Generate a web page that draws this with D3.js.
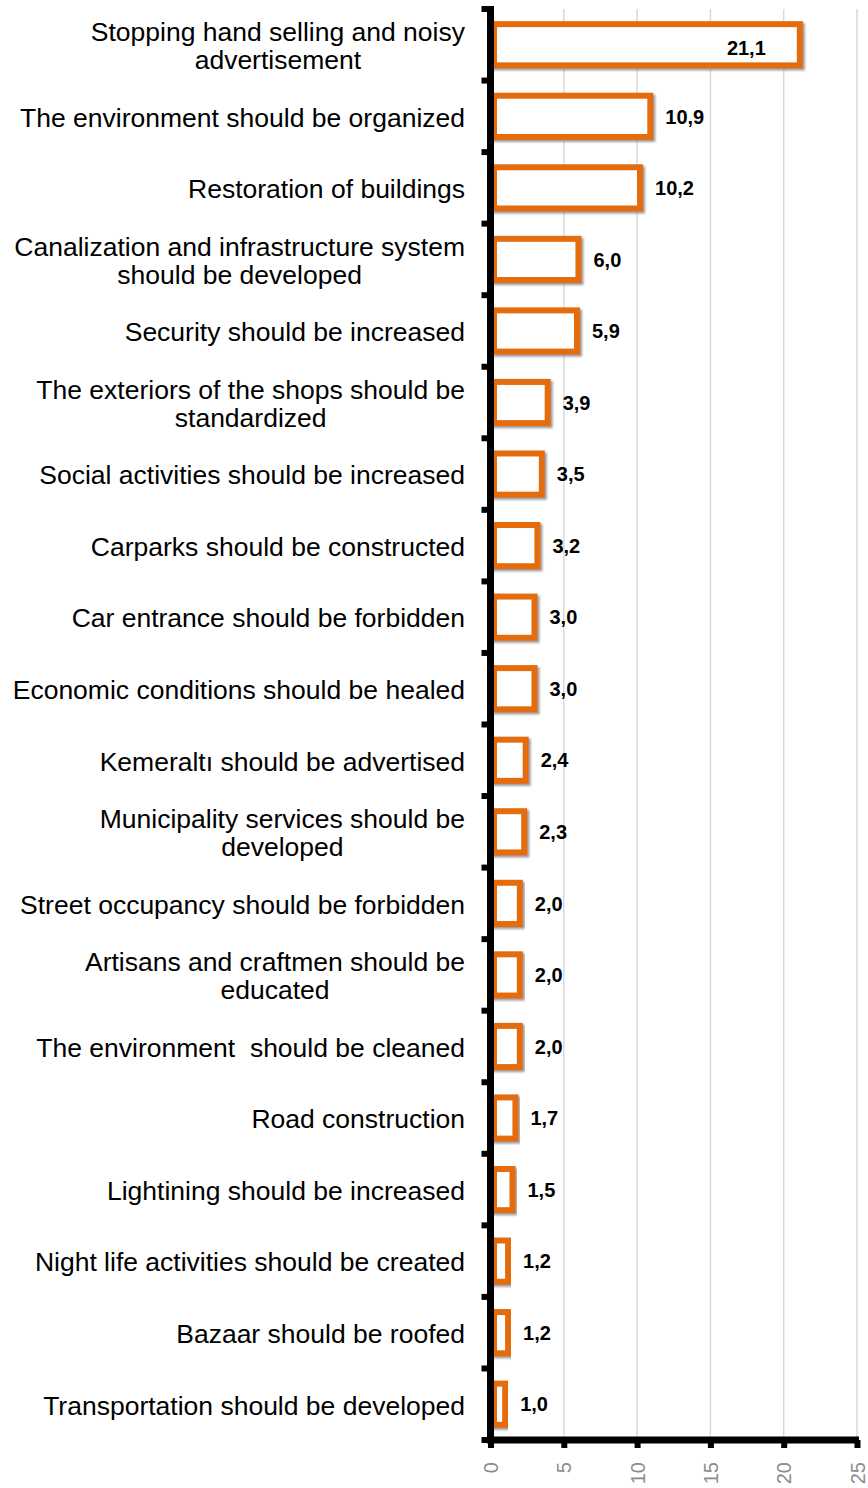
<!DOCTYPE html>
<html>
<head>
<meta charset="utf-8">
<script src="https://cdn.jsdelivr.net/npm/d3@7"></script>
<style>
  html, body { margin: 0; padding: 0; background: #fff; }
  svg { display: block; }
</style>
</head>
<body>
<svg id="chart" width="868" height="1488"></svg>
<script>
const categories = [
  ["Stopping hand selling and noisy", "advertisement"],
  ["The environment should be organized"],
  ["Restoration of buildings"],
  ["Canalization and infrastructure system", "should be developed"],
  ["Security should be increased"],
  ["The exteriors of the shops should be", "standardized"],
  ["Social activities should be increased"],
  ["Carparks should be constructed"],
  ["Car entrance should be forbidden"],
  ["Economic conditions should be healed"],
  ["Kemeraltı should be advertised"],
  ["Municipality services should be", "developed"],
  ["Street occupancy should be forbidden"],
  ["Artisans and craftmen should be", "educated"],
  ["The environment  should be cleaned"],
  ["Road construction"],
  ["Lightining should be increased"],
  ["Night life activities should be created"],
  ["Bazaar should be roofed"],
  ["Transportation should be developed"]
];
const values = [21.1, 10.9, 10.2, 6.0, 5.9, 3.9, 3.5, 3.2, 3.0, 3.0, 2.4, 2.3, 2.0, 2.0, 2.0, 1.7, 1.5, 1.2, 1.2, 1.0];
const xTicks = [0, 5, 10, 15, 20, 25];

const svg = d3.select("#chart");
const orange = "#E46C0A";

const x0 = 490.5, x1 = 857, yTop = 9, yBot = 1440;
const x = d3.scaleLinear().domain([0, 25]).range([x0, x1]);
const idx = d3.range(values.length);
const y = d3.scaleBand().domain(idx).range([yTop, yBot]).paddingInner(0.34).paddingOuter(0.17);
const yb = d3.scaleBand().domain(idx).range([yTop, yBot]);

const defs = svg.append("defs");
const f = defs.append("filter").attr("id", "sh").attr("x", "-20%").attr("y", "-20%").attr("width", "140%").attr("height", "140%");
f.append("feDropShadow").attr("dx", 2).attr("dy", 2).attr("stdDeviation", 1).attr("flood-color", "#808080").attr("flood-opacity", 0.8);

// gridlines
svg.append("g").selectAll("line").data(xTicks.slice(1)).join("line")
  .attr("x1", d => x(d)).attr("x2", d => x(d))
  .attr("y1", yTop).attr("y2", yBot)
  .attr("stroke", "#d9d9d9").attr("stroke-width", 1.5);

// bars
const sw = 6;
svg.append("g").selectAll("rect").data(idx).join("rect")
  .attr("x", x(0) + 3.5)
  .attr("y", i => y(i) + sw / 2)
  .attr("width", i => Math.max(1, x(values[i]) - x(0) - 3.5))
  .attr("height", y.bandwidth() - sw)
  .attr("fill", "#fff")
  .attr("stroke", orange)
  .attr("stroke-width", sw)
  .attr("filter", "url(#sh)");

// value labels
svg.append("g").selectAll("text").data(idx).join("text")
  .attr("x", i => values[i] > 20 ? x(values[i]) - 34 : x(values[i]) + 15)
  .attr("y", i => y(i) + y.bandwidth() / 2 + (values[i] > 20 ? 3 : 0))
  .attr("dy", "0.36em")
  .attr("text-anchor", i => values[i] > 20 ? "end" : "start")
  .attr("font-family", "'Liberation Sans', Arial, sans-serif")
  .attr("font-weight", "bold")
  .attr("font-size", 20)
  .attr("fill", "#000")
  .text(i => d3.format(".1f")(values[i]).replace(".", ","));

// category labels
const catG = svg.append("g")
  .attr("font-family", "'Liberation Sans', Arial, sans-serif")
  .attr("font-size", 26.5)
  .attr("fill", "#000");
idx.forEach(i => {
  const lines = categories[i];
  const cy = yb(i) + yb.bandwidth() / 2 + 1;
  const right = 465;
  if (lines.length === 1) {
    catG.append("text").attr("x", right).attr("y", cy).attr("dy", "0.35em")
      .attr("text-anchor", "end").style("white-space", "pre").text(lines[0]);
  } else {
    const ts = lines.map((l, k) => catG.append("text")
      .attr("y", cy + (k - (lines.length - 1) / 2) * 28).attr("dy", "0.35em")
      .attr("text-anchor", "middle").style("white-space", "pre").text(l));
    const w = d3.max(ts, t => t.node().getComputedTextLength());
    ts.forEach(t => t.attr("x", right - w / 2));
  }
});

// left axis
const yAxis = svg.append("g");
yAxis.append("line").attr("x1", x0).attr("x2", x0).attr("y1", yTop - 3).attr("y2", yBot + 3)
  .attr("stroke", "#000").attr("stroke-width", 7);
yAxis.selectAll("line.t").data(d3.range(values.length + 1)).join("line").attr("class", "t")
  .attr("x1", x0 - 9).attr("x2", x0)
  .attr("y1", i => yTop + i * yb.step()).attr("y2", i => yTop + i * yb.step())
  .attr("stroke", "#000").attr("stroke-width", 6);

// bottom axis
const xAxis = svg.append("g").attr("transform", `translate(0,${yBot})`)
  .call(d3.axisBottom(x).tickValues(xTicks).tickSize(0).tickFormat(""));
xAxis.select(".domain").remove();
xAxis.append("line").attr("x1", x0 - 3.5).attr("x2", x1 + 2).attr("y1", 0).attr("y2", 0)
  .attr("stroke", "#000").attr("stroke-width", 7);
xAxis.selectAll(".tick").append("line").attr("y1", 0).attr("y2", 8)
  .attr("stroke", "#000").attr("stroke-width", 6);
xAxis.selectAll(".tick").append("text")
  .attr("transform", "translate(0,22) rotate(-90)")
  .attr("dy", "0.35em")
  .attr("text-anchor", "end")
  .attr("font-family", "'Liberation Sans', Arial, sans-serif")
  .attr("font-size", 20)
  .attr("fill", "#8c8c8c")
  .text(d => d);
</script>
</body>
</html>
